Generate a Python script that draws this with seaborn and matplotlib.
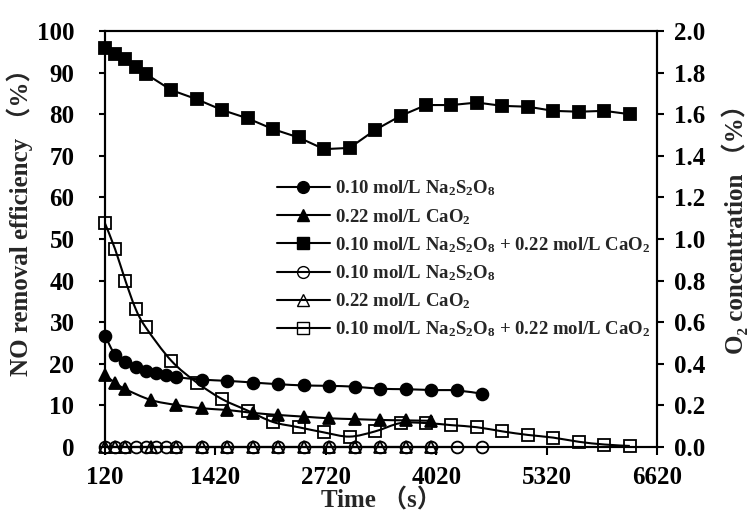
import numpy as np
import matplotlib
matplotlib.use("Agg")
import matplotlib.pyplot as plt
from matplotlib.path import Path
from matplotlib.patches import PathPatch
from matplotlib.lines import Line2D
import seaborn as sns

# Sampling times (s)
t_persulfate = [120, 240, 360, 480, 600, 720, 840, 960, 1260, 1560, 1860, 2160,
                2460, 2760, 3060, 3360, 3660, 3960, 4260, 4560]
t_peroxide = [120, 240, 360, 660, 960, 1260, 1560, 1860, 2160, 2460, 2760,
              3060, 3360, 3660, 3960]
t_combined = [120, 240, 360, 480, 600, 900, 1200, 1500, 1800, 2100, 2400, 2700,
              3000, 3300, 3600, 3900, 4200, 4500, 4800, 5100, 5400, 5700, 6000, 6300]

# NO removal efficiency (%)
no_persulfate = [26.8, 22.1, 20.5, 19.3, 18.3, 17.9, 17.3, 16.8, 16.2, 15.9, 15.5,
                 15.1, 14.8, 14.7, 14.5, 14.0, 13.9, 13.7, 13.6, 12.8]
no_peroxide = [17.3, 15.4, 13.9, 11.3, 10.1, 9.3, 8.9, 8.2, 7.7, 7.3, 6.9, 6.7,
               6.5, 6.4, 6.3]
no_combined = [96.0, 94.5, 93.2, 91.4, 89.7, 85.8, 83.6, 81.0, 79.0, 76.4, 74.4,
               71.6, 71.9, 76.2, 79.6, 82.2, 82.2, 82.8, 82.0, 81.8, 80.8, 80.6,
               80.8, 80.0]

# O2 concentration (%)
o2_persulfate = [0.0, 0.0, 0.0, 0.0, 0.0, 0.0, 0.0, 0.0, 0.0, 0.0, 0.0, 0.0, 0.0,
                 0.0, 0.0, 0.0, 0.0, 0.0, 0.0, 0.0]
o2_peroxide = [0.0, 0.0, 0.0, 0.0, 0.0, 0.0, 0.0, 0.0, 0.0, 0.0, 0.0, 0.0, 0.0,
               0.0, 0.0]
o2_combined = [1.075, 0.95, 0.80, 0.665, 0.575, 0.415, 0.31, 0.23, 0.175, 0.12,
               0.095, 0.07, 0.05, 0.075, 0.115, 0.115, 0.105, 0.095, 0.075, 0.058,
               0.045, 0.025, 0.012, 0.005]

x_ticks = [120, 1420, 2720, 4020, 5320, 6620]
left_ticks = [0, 10, 20, 30, 40, 50, 60, 70, 80, 90, 100]
right_ticks = [0.0, 0.2, 0.4, 0.6, 0.8, 1.0, 1.2, 1.4, 1.6, 1.8, 2.0]

lbl_s = r"0.10 mol/L Na$_{2}$S$_{2}$O$_{8}$"
lbl_c = r"0.22 mol/L CaO$_{2}$"
lbl_sc = r"0.10 mol/L Na$_{2}$S$_{2}$O$_{8}$ + 0.22 mol/L CaO$_{2}$"

sns.set_theme(style="ticks")
plt.rcParams.update({
    "font.family": ["Liberation Serif", "Noto Sans CJK SC", "DejaVu Sans"],
    "font.weight": "bold",
    "axes.labelweight": "bold",
    "mathtext.fontset": "custom",
    "mathtext.rm": "Liberation Serif:bold",
    "mathtext.it": "Liberation Serif:italic:bold",
    "mathtext.bf": "Liberation Serif:bold",
    "axes.edgecolor": "black",
    "axes.linewidth": 1.5,
    "xtick.color": "black",
    "ytick.color": "black",
})

fig = plt.figure(figsize=(7.48, 5.18), dpi=100)
ax = fig.add_axes([105 / 748, 71 / 518, 552 / 748, 416 / 518])
ax2 = ax.twinx()

MS = 8.5
LW = 1.5


def smooth_path(x, y):
    """Cubic Bezier path through the points (Catmull-Rom style smoothing)."""
    x = np.asarray(x, float)
    y = np.asarray(y, float)
    n = len(x)
    verts = [(x[0], y[0])]
    codes = [Path.MOVETO]
    for i in range(n - 1):
        xp, yp = (x[i - 1], y[i - 1]) if i > 0 else (x[i], y[i])
        xn, yn = (x[i + 2], y[i + 2]) if i + 2 < n else (x[i + 1], y[i + 1])
        c1 = (x[i] + (x[i + 1] - xp) / 6, y[i] + (y[i + 1] - yp) / 6)
        c2 = (x[i + 1] - (xn - x[i]) / 6, y[i + 1] - (yn - y[i]) / 6)
        verts += [c1, c2, (x[i + 1], y[i + 1])]
        codes += [Path.CURVE4] * 3
    return Path(verts, codes)


def draw_series(axis, x, y, marker, filled, smooth):
    if smooth:
        axis.add_patch(PathPatch(smooth_path(x, y), facecolor="none",
                                 edgecolor="black", lw=LW, zorder=2,
                                 clip_on=False))
        lw = 0
    else:
        lw = LW
    sns.lineplot(x=x, y=y, ax=axis, color="black", linewidth=lw,
                 marker=marker, markersize=MS,
                 markerfacecolor="black" if filled else "none",
                 markeredgecolor="black", markeredgewidth=1.3,
                 estimator=None, sort=False, clip_on=False, zorder=3)


# NO removal efficiency (left axis)
draw_series(ax, t_persulfate, no_persulfate, "o", True, True)
draw_series(ax, t_peroxide, no_peroxide, "^", True, True)
draw_series(ax, t_combined, no_combined, "s", True, False)

# O2 concentration (right axis)
draw_series(ax2, t_persulfate, o2_persulfate, "o", False, False)
draw_series(ax2, t_peroxide, o2_peroxide, "^", False, False)
draw_series(ax2, t_combined, o2_combined, "s", False, True)

ax.set_xlim(120, 6620)
ax.set_ylim(0, 100)
ax2.set_ylim(0, 2.0)
ax.set_xticks(x_ticks)
ax.set_xticklabels([str(v) for v in x_ticks])
ax.set_yticks(left_ticks)
ax.set_yticklabels([str(v) for v in left_ticks])
ax2.set_yticks(right_ticks)
ax2.set_yticklabels([f"{v:.1f}" for v in right_ticks])

for a in (ax, ax2):
    for s in a.spines.values():
        s.set_visible(True)
        s.set_color("black")
        s.set_linewidth(1.5)

ax.tick_params(axis="x", direction="out", length=5.5, width=1.5, pad=8,
               labelsize=18)
ax.tick_params(axis="y", direction="out", length=4, width=1.5, pad=18,
               labelsize=18)
ax2.tick_params(axis="y", direction="out", length=5, width=1.5, pad=7,
                labelsize=18)
for lab in ax.get_xticklabels() + ax.get_yticklabels() + ax2.get_yticklabels():
    lab.set_fontweight("bold")

ax.set_xlabel("Time （s）", fontsize=18, fontweight="bold")
ax.set_ylabel("NO removal efficiency （%）", fontsize=18, fontweight="bold")
ax2.set_ylabel("O₂ concentration （%）", fontsize=18, fontweight="bold",
               rotation=90)
ax.xaxis.set_label_coords(0.5, -0.10)
ax.yaxis.set_label_coords(-0.13, 0.555)
ax2.yaxis.set_label_coords(1.117, 0.538)

handles = [
    Line2D([], [], color="black", lw=LW, marker="o", ms=MS, mfc="black", mec="black"),
    Line2D([], [], color="black", lw=LW, marker="^", ms=MS, mfc="black", mec="black"),
    Line2D([], [], color="black", lw=LW, marker="s", ms=MS, mfc="black", mec="black"),
    Line2D([], [], color="black", lw=LW, marker="o", ms=MS, mfc="none", mec="black"),
    Line2D([], [], color="black", lw=LW, marker="^", ms=MS, mfc="none", mec="black"),
    Line2D([], [], color="black", lw=LW, marker="s", ms=MS, mfc="none", mec="black"),
]
labels = [lbl_s, lbl_c, lbl_sc, lbl_s, lbl_c, lbl_sc]
ax2.legend(handles, labels, loc="upper left", bbox_to_anchor=(0.312, 0.645),
           frameon=False, fontsize=13.5, handlelength=2.8,
           handletextpad=0.3, labelspacing=0.45, borderpad=0,
           borderaxespad=0)

fig.savefig("out.png", dpi=100)
